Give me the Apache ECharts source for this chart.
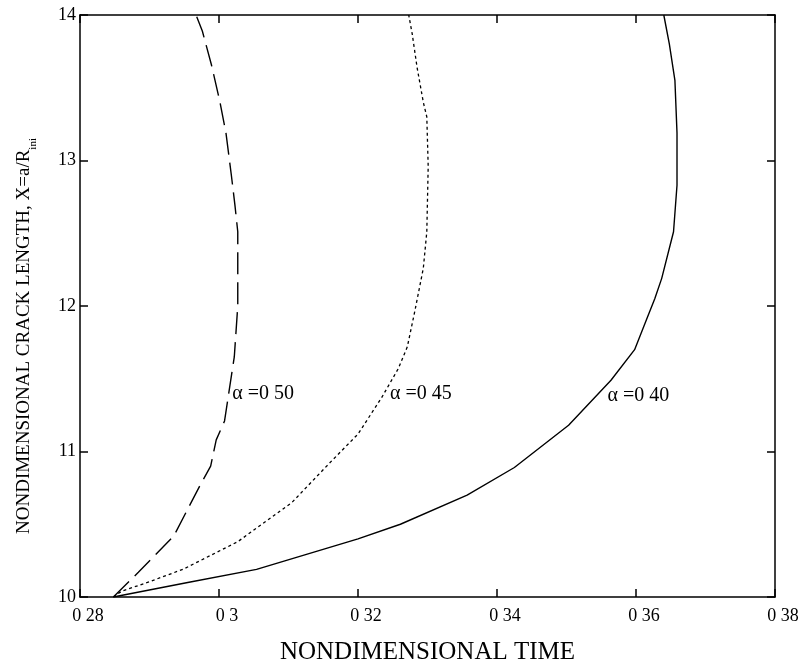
<!DOCTYPE html>
<html>
<head>
<meta charset="utf-8">
<script src="https://cdn.jsdelivr.net/npm/echarts@6/dist/echarts.min.js"></script>
<style>
html,body{margin:0;padding:0;background:#fff;}
#main{width:802px;height:670px;}
</style>
</head>
<body>
<div id="main"></div>
<script>
// ---- data ----
const xTickValues = [0.28, 0.30, 0.32, 0.34, 0.36, 0.38];
const xTickLabels = ['0 28', '0 3', '0 32', '0 34', '0 36', '0 38'];
const yTickValues = [10, 11, 12, 13, 14];
const yTickLabels = ['10', '11', '12', '13', '14'];

const alpha040X = [0.2848, 0.2955, 0.3054, 0.3200, 0.3261, 0.3357, 0.3425, 0.3503, 0.3564, 0.3598, 0.3617, 0.3627, 0.3637, 0.3654, 0.3659, 0.3659, 0.3656, 0.3648, 0.3640];
const alpha040Y = [10.00, 10.10, 10.19, 10.40, 10.50, 10.70, 10.89, 11.18, 11.49, 11.70, 11.93, 12.05, 12.19, 12.51, 12.83, 13.19, 13.55, 13.80, 14.00];

const alpha045X = [0.2848, 0.2860, 0.2897, 0.2948, 0.3027, 0.3105, 0.3159, 0.3200, 0.3234, 0.3258, 0.3271, 0.3282, 0.3294, 0.3299, 0.3301, 0.3299, 0.3294, 0.3285, 0.3278, 0.3273];
const alpha045Y = [10.00, 10.04, 10.10, 10.19, 10.38, 10.65, 10.92, 11.12, 11.37, 11.57, 11.72, 11.97, 12.26, 12.51, 12.96, 13.30, 13.40, 13.64, 13.87, 14.00];

const alpha050X = [0.2848, 0.2884, 0.2935, 0.2972, 0.2988, 0.2996, 0.3008, 0.3014, 0.3022, 0.3027, 0.3027, 0.3023, 0.3018, 0.3010, 0.3001, 0.2989, 0.2976, 0.2967];
const alpha050Y = [10.00, 10.17, 10.42, 10.76, 10.90, 11.08, 11.21, 11.40, 11.65, 12.00, 12.51, 12.69, 12.89, 13.19, 13.41, 13.66, 13.89, 14.00];

const curveLabels = ['\u03b1 =0 40', '\u03b1 =0 45', '\u03b1 =0 50'];
const labelX = [0.3559, 0.3246, 0.3019];
const labelY = [11.38, 11.40, 11.40];

// ---- chart ----
const FONT = '"Liberation Serif", "Times New Roman", serif';
function pairs(xs, ys) { return xs.map((x, i) => [x, ys[i]]); }
function tickLabel(vals, labels) {
  return function (v) {
    let best = 0, bd = Infinity;
    vals.forEach((t, i) => { const d = Math.abs(t - v); if (d < bd) { bd = d; best = i; } });
    return bd < 1e-6 ? labels[best] : '';
  };
}
const axisLine = { show: true, lineStyle: { color: '#000', width: 1.5 } };
const axisTick = { show: true, inside: true, length: 8, lineStyle: { color: '#000', width: 1.5 } };

function mk(i) {
  return {
    symbol: 'circle', symbolSize: 0.1,
    itemStyle: { color: 'rgba(0,0,0,0)' },
    label: { show: true, position: 'right', distance: 0, formatter: curveLabels[i],
      color: '#000', fontFamily: FONT, fontSize: 20 },
    data: [{ coord: [labelX[i], labelY[i]] }],
    silent: true
  };
}

const chart = echarts.init(document.getElementById('main'), null, { renderer: 'canvas' });
chart.setOption({
  animation: false,
  backgroundColor: '#fff',
  grid: { left: 80, right: 27, top: 15, bottom: 69, containLabel: false },
  xAxis: [{
    type: 'value', min: 0.28, max: 0.38, interval: 0.02, position: 'bottom',
    axisLine, axisTick, splitLine: { show: false },
    axisLabel: { color: '#000', fontFamily: FONT, fontSize: 18, margin: 10,
      padding: [0, 0, 0, 16], formatter: tickLabel(xTickValues, xTickLabels) },
    name: 'NONDIMENSIONAL TIME', nameLocation: 'middle', nameGap: 43,
    nameTextStyle: { color: '#000', fontFamily: FONT, fontSize: 25 }
  }, {
    type: 'value', min: 0.28, max: 0.38, interval: 0.02, position: 'top',
    axisLine, axisTick, axisLabel: { show: false }, splitLine: { show: false }
  }],
  yAxis: [{
    type: 'value', min: 10, max: 14, interval: 1, position: 'left',
    axisLine, axisTick, splitLine: { show: false },
    axisLabel: { color: '#000', fontFamily: FONT, fontSize: 18, margin: 4,
      formatter: tickLabel(yTickValues, yTickLabels) },
    name: '{a|NONDIMENSIONAL CRACK LENGTH, X=a/R}{s|ini}',
    nameLocation: 'middle', nameGap: 43, nameRotate: 90,
    nameTextStyle: {
      color: '#000', fontFamily: FONT, padding: [0, 60, 0, 0],
      rich: {
        a: { fontFamily: FONT, fontSize: 19, color: '#000', lineHeight: 22, verticalAlign: 'top' },
        s: { fontFamily: FONT, fontSize: 11, color: '#000', lineHeight: 11, padding: [13, 0, 0, 0], verticalAlign: 'top' }
      }
    }
  }, {
    type: 'value', min: 10, max: 14, interval: 1, position: 'right',
    axisLine, axisTick, axisLabel: { show: false }, splitLine: { show: false }
  }],
  series: [{
    name: curveLabels[0], type: 'line', data: pairs(alpha040X, alpha040Y),
    showSymbol: false, symbol: 'none', smooth: false,
    lineStyle: { color: '#000', width: 1.4, type: 'solid' },
    markPoint: mk(0)
  }, {
    name: curveLabels[1], type: 'line', data: pairs(alpha045X, alpha045Y),
    showSymbol: false, symbol: 'none', smooth: false,
    lineStyle: { color: '#000', width: 1.3, type: [3, 3] },
    markPoint: mk(1)
  }, {
    name: curveLabels[2], type: 'line', data: pairs(alpha050X, alpha050Y),
    showSymbol: false, symbol: 'none', smooth: false,
    lineStyle: { color: '#000', width: 1.4, type: [22, 8] },
    markPoint: mk(2)
  }]
});
</script>
</body>
</html>
